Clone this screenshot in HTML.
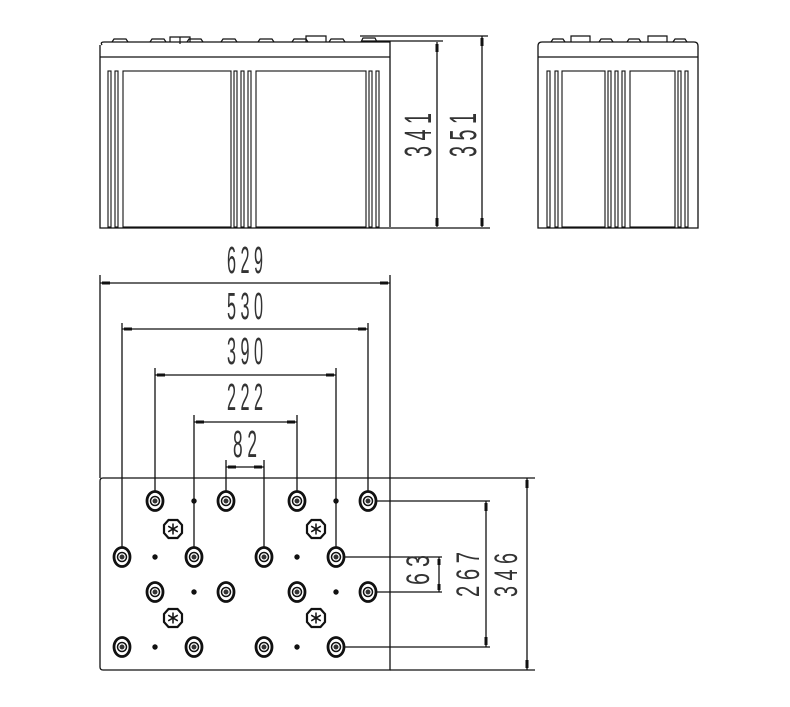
<!DOCTYPE html>
<html><head><meta charset="utf-8"><style>
html,body{margin:0;padding:0;background:#fff;}
svg{display:block;}
text{font-family:"Liberation Sans",sans-serif;fill:#333;}
</style></head><body>
<svg width="790" height="707" viewBox="0 0 790 707" xmlns="http://www.w3.org/2000/svg">
<defs>
<g id="t">
<ellipse cx="0" cy="0" rx="8" ry="9.5" fill="#fff" stroke="#111" stroke-width="2.8"/>
<circle cx="0" cy="0" r="4.5" fill="#fff" stroke="#111" stroke-width="1.5"/>
<circle cx="0" cy="0" r="2.5" fill="#333"/>
</g>
<g id="s">
<polygon points="-4.5,-9 4.5,-9 9,-4 9,4 4.5,9 -4.5,9 -9,4 -9,-4" fill="#fff" stroke="#111" stroke-width="2.2"/>
<path d="M0,-5.5V5.5M-4.8,-2.8L4.8,2.8M-4.8,2.8L4.8,-2.8" stroke="#111" stroke-width="1.5"/>
</g>
</defs>
<g stroke="#111" stroke-width="1.3" fill="none">
<path d="M102,45 Q100,42 104,42 H390 V227"/>
<path d="M100,45 V228 H390"/>
<line x1="100" y1="57" x2="390" y2="57"/>
<g stroke-width="1.2">
<path d="M112,42 L114,39 H126 L128,42"/>
<path d="M150,42 L152,39 H164 L166,42"/>
<path d="M170,42 V37 H190 V42 M180,37 V44"/>
<path d="M187,42 L189,39 H201 L203,42"/>
<path d="M221,42 L223,39 H235 L237,42"/>
<path d="M258,42 L260,39 H272 L274,42"/>
<path d="M292,42 L294,39 H306 L308,42"/>
<path d="M306,42 V36 H326 V42"/>
<path d="M329,42 L331,39 H343 L345,42"/>
<path d="M361,42 L363,38 H375 L377,42"/>
</g>
<line x1="360" y1="36" x2="488" y2="36"/>
<line x1="362" y1="41" x2="443" y2="41"/>
<line x1="390" y1="228" x2="490" y2="228"/>
<g stroke-width="1.1">
<rect x="108" y="71" width="3" height="156"/><rect x="115" y="71" width="3" height="156"/>
<rect x="123" y="71" width="108" height="156"/>
<rect x="234" y="71" width="3" height="156"/><rect x="241" y="71" width="3" height="156"/><rect x="248" y="71" width="3" height="156"/>
<rect x="256" y="71" width="110" height="156"/>
<rect x="369" y="71" width="3" height="156"/><rect x="376" y="71" width="3" height="156"/>
</g>
<line x1="437" y1="42" x2="437" y2="227"/>
<line x1="482" y1="36" x2="482" y2="227"/>
<g stroke-width="3"><line x1="437" y1="44" x2="437" y2="52"/><line x1="437" y1="218" x2="437" y2="226"/><line x1="482" y1="38" x2="482" y2="46"/><line x1="482" y1="218" x2="482" y2="226"/></g>
<path d="M538,228 V46 Q538,42 542,42 H694 Q698,42 698,46 V228 Z"/>
<line x1="538" y1="57" x2="698" y2="57"/>
<g stroke-width="1.2">
<path d="M551,42 L553,39 H563 L565,42"/>
<path d="M571,42 V36 H590 V42"/>
<path d="M599,42 L601,39 H611 L613,42"/>
<path d="M627,42 L629,39 H639 L641,42"/>
<path d="M648,42 V36 H667 V42"/>
<path d="M673,42 L675,39 H685 L687,42"/>
</g>
<g stroke-width="1.1">
<rect x="547" y="71" width="3" height="156"/><rect x="555" y="71" width="3" height="156"/>
<rect x="562" y="71" width="43" height="156"/>
<rect x="608" y="71" width="3" height="156"/><rect x="615" y="71" width="3" height="156"/><rect x="622" y="71" width="3" height="156"/>
<rect x="630" y="71" width="45" height="156"/>
<rect x="678" y="71" width="3" height="156"/><rect x="685" y="71" width="3" height="156"/>
</g>
<path d="M103,478 H390 V670 H103 Q100,670 100,667 V481 Q100,478 103,478 Z"/>
<line x1="390" y1="478" x2="535" y2="478"/>
<line x1="390" y1="670" x2="535" y2="670"/>
<line x1="100" y1="275" x2="100" y2="478"/>
<line x1="390" y1="275" x2="390" y2="478"/>
<line x1="100" y1="283" x2="390" y2="283"/>
<line x1="122" y1="323" x2="122" y2="557"/>
<line x1="368" y1="323" x2="368" y2="501"/>
<line x1="122" y1="329" x2="368" y2="329"/>
<line x1="155" y1="368" x2="155" y2="501"/>
<line x1="336" y1="368" x2="336" y2="557"/>
<line x1="155" y1="375" x2="336" y2="375"/>
<line x1="194" y1="415" x2="194" y2="557"/>
<line x1="297" y1="415" x2="297" y2="501"/>
<line x1="194" y1="422" x2="297" y2="422"/>
<line x1="226" y1="460" x2="226" y2="501"/>
<line x1="264" y1="460" x2="264" y2="557"/>
<line x1="226" y1="467" x2="264" y2="467"/>
<g stroke-width="3">
<line x1="102" y1="283" x2="110" y2="283"/><line x1="380" y1="283" x2="388" y2="283"/>
<line x1="124" y1="329" x2="132" y2="329"/><line x1="358" y1="329" x2="366" y2="329"/>
<line x1="157" y1="375" x2="165" y2="375"/><line x1="326" y1="375" x2="334" y2="375"/>
<line x1="196" y1="422" x2="204" y2="422"/><line x1="287" y1="422" x2="295" y2="422"/>
<line x1="228" y1="467" x2="236" y2="467"/><line x1="254" y1="467" x2="262" y2="467"/>
</g>
<line x1="368" y1="501" x2="490" y2="501"/>
<line x1="336" y1="647" x2="490" y2="647"/>
<line x1="486" y1="501" x2="486" y2="647"/>
<line x1="336" y1="557" x2="442" y2="557"/>
<line x1="368" y1="592" x2="442" y2="592"/>
<line x1="439" y1="557" x2="439" y2="592"/>
<line x1="527" y1="478" x2="527" y2="670"/>
<g stroke-width="3">
<line x1="486" y1="503" x2="486" y2="511"/><line x1="486" y1="637" x2="486" y2="645"/>
<line x1="439" y1="559" x2="439" y2="565"/><line x1="439" y1="584" x2="439" y2="590"/>
<line x1="527" y1="480" x2="527" y2="488"/><line x1="527" y1="660" x2="527" y2="668"/>
</g>
</g>
<use href="#t" x="155" y="501"/><use href="#t" x="226" y="501"/><use href="#t" x="297" y="501"/><use href="#t" x="368" y="501"/>
<use href="#t" x="122" y="557"/><use href="#t" x="194" y="557"/><use href="#t" x="264" y="557"/><use href="#t" x="336" y="557"/>
<use href="#t" x="155" y="592"/><use href="#t" x="226" y="592"/><use href="#t" x="297" y="592"/><use href="#t" x="368" y="592"/>
<use href="#t" x="122" y="647"/><use href="#t" x="194" y="647"/><use href="#t" x="264" y="647"/><use href="#t" x="336" y="647"/>
<use href="#s" x="173" y="529"/><use href="#s" x="316" y="529"/>
<use href="#s" x="173" y="618"/><use href="#s" x="316" y="618"/>
<g fill="#111">
<circle cx="194" cy="501" r="2.7"/><circle cx="336" cy="501" r="2.7"/>
<circle cx="155" cy="557" r="2.7"/><circle cx="297" cy="557" r="2.7"/>
<circle cx="194" cy="592" r="2.7"/><circle cx="336" cy="592" r="2.7"/>
<circle cx="155" cy="647" r="2.7"/><circle cx="297" cy="647" r="2.7"/>
</g>
<g font-size="38" xml:space="preserve">
<text x="227" y="273" textLength="36" lengthAdjust="spacingAndGlyphs">6 2 9</text>
<text x="227" y="319" textLength="36" lengthAdjust="spacingAndGlyphs">5 3 0</text>
<text x="227" y="364" textLength="36" lengthAdjust="spacingAndGlyphs">3 9 0</text>
<text x="227" y="410" textLength="36" lengthAdjust="spacingAndGlyphs">2 2 2</text>
<text x="233" y="457" textLength="24" lengthAdjust="spacingAndGlyphs">8 2</text>
<text transform="translate(431,157) rotate(-90)" textLength="44" lengthAdjust="spacingAndGlyphs">3 4 1</text>
<text transform="translate(476,157) rotate(-90)" textLength="44" lengthAdjust="spacingAndGlyphs">3 5 1</text>
</g>
<g font-size="32" xml:space="preserve">
<text transform="translate(429,585) rotate(-90)" textLength="30" lengthAdjust="spacingAndGlyphs">6 3</text>
<text transform="translate(479,597) rotate(-90)" textLength="45" lengthAdjust="spacingAndGlyphs">2 6 7</text>
<text transform="translate(517,597) rotate(-90)" textLength="44" lengthAdjust="spacingAndGlyphs">3 4 6</text>
</g>
</svg>
</body></html>
